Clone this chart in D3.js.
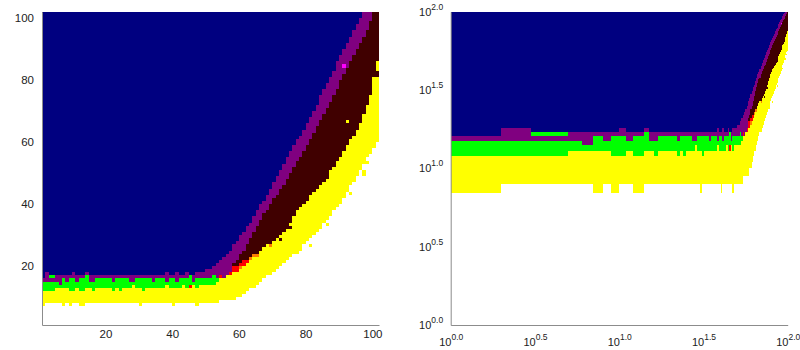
<!DOCTYPE html>
<html>
<head>
<meta charset="utf-8">
<script src="https://cdn.jsdelivr.net/npm/d3@7"></script>
<style>
  body { margin: 0; background: #fff; }
  svg { display: block; }
  .tick text { font-family: "Liberation Sans", Arial, sans-serif; fill: #222; }
</style>
</head>
<body>
<script>
// grid is 101 x 101 cells, column c spans [c, c+1], row r spans [r, r+1]
// per column: first yellow row, first row above yellow, first purple row, first navy row
var yellowStart = [
   7, 8, 8, 8, 8, 8, 7, 8, 7, 8,
   8, 7, 7, 8, 8, 8, 8, 8, 8, 8,
   8, 8, 8, 8, 8, 8, 8, 8, 8, 7,
   8, 8, 8, 8, 8, 8, 8, 8, 8, 7,
   8, 8, 8, 8, 8, 8, 7, 8, 8, 8,
   8, 8, 8, 9, 9, 9, 9, 9,10,10,
  11,12,13,13,14,15,16,17,17,18,
  19,20,21,22,23,24,24,25,27,28,
  29,30,31,32,34,35,36,38,39,40,
  42,44,46,47,49,51,53,55,56,58,60
];
var midStart = [
  12,12,12,12,13,13,13,13,12,12,
  13,12,12,13,13,12,13,13,13,13,
  13,12,13,12,13,13,13,14,13,13,
  12,13,13,13,13,13,13,14,13,13,
  13,13,14,13,13,14,13,14,14,14,
  14,14,15,16,16,17,17,18,18,19,
  20,21,22,23,24,25,26,27,27,28,
  29,30,31,32,34,36,38,39,40,41,
  43,44,45,46,47,49,51,52,54,55,
  57,59,61,62,64,66,69,72,75,81,86
];
var purpleStart = [
  15,15,15,15,15,14,16,15,16,16,
  15,16,16,16,15,15,16,16,16,16,
  16,15,16,16,16,16,15,15,16,16,
  16,16,16,15,16,16,16,15,16,16,
  15,16,16,16,16,15,16,16,16,16,
  16,17,16,17,16,17,18,21,22,24,
  25,27,29,31,33,35,37,38,40,42,
  43,45,46,48,50,52,54,55,57,59,
  61,63,65,67,69,71,73,75,77,80,
  82,84,86,88,90,92,94,96,99,102,102
];
var navyStart = [
  16,18,17,17,17,17,17,17,17,18,
  17,17,17,18,17,17,17,17,17,17,
  17,17,17,17,17,17,17,17,17,17,
  17,17,17,17,17,17,17,18,17,17,
  18,17,17,18,17,17,18,18,18,19,
  19,20,21,22,23,24,25,27,28,30,
  31,33,34,36,38,40,41,43,45,47,
  49,51,53,55,57,59,61,62,64,66,
  68,70,72,75,77,79,81,83,86,88,
  90,92,94,96,98,100,102,102,102,102,102
];
var greenUntilCol = 53;

// single cells that break the bands: [column, row, class]
var oddCells = [
  [3,16,"g"],[4,16,"g"],[14,16,"g"],[45,16,"g"],
  [45,13,"r"],[54,16,"r"],[57,17,"r"],[58,18,"r"],[58,19,"r"],[59,18,"r"],
  [59,19,"r"],[60,19,"o"],[60,20,"r"],[61,20,"r"],[61,21,"r"],[62,21,"r"],
  [63,22,"o"],[64,23,"o"],[65,23,"o"],[69,26,"o"],
  [91,84,"m"],
  [72,28,"b"],[75,32,"b"],[86,48,"b"],[101,81,"b"],[101,82,"b"],
  [92,66,"y"],[81,26,"y"],[86,33,"y"],[93,43,"y"],[97,49,"y"],[97,50,"y"],[98,53,"y"]
];

var colors = {
  n: "#000080", p: "#800080", b: "#400000", g: "#00ff00",
  y: "#ffff00", r: "#ff0000", o: "#ff8000", m: "#ff00ff"
};

var linTicks = [20, 40, 60, 80, 100];
var logExponents = ["0.0", "0.5", "1.0", "1.5", "2.0"];

var width = 800, height = 350;

var svg = d3.select("body").append("svg")
    .attr("width", width)
    .attr("height", height);

//category of one cell
function cellClass(c, r){
    var i = c - 1;
    if (r < yellowStart[i]) return null;
    if (r < midStart[i]) return "y";
    if (r < purpleStart[i]) return c <= greenUntilCol ? "g" : "b";
    if (r < navyStart[i]) return "p";
    return "n";
}

//merge each column into vertical runs of one colour
function buildRuns(){
    var lookup = {};
    oddCells.forEach(function(d){ lookup[d[0] + "_" + d[1]] = d[2]; });
    var runs = [];
    for (var c = 1; c <= navyStart.length; c++){
        var cur = null, start = 1;
        for (var r = 1; r <= 102; r++){
            var k = r <= 101 ? (lookup[c + "_" + r] || cellClass(c, r)) : "end";
            if (k !== cur){
                if (cur && cur !== "end") runs.push({c: c, r0: start, r1: r, k: cur});
                cur = k; start = r;
            }
        }
    }
    return runs;
}

var runs = buildRuns();

function drawPanel(x, y, lo, hi){
    var g = svg.append("g");
    g.selectAll("rect")
        .data(runs.filter(function(d){ return d.c < hi && d.r0 < hi; }))
        .enter()
        .append("rect")
        .attr("x", function(d){ return x(Math.max(d.c, lo)); })
        .attr("width", function(d){ return x(Math.min(d.c + 1, hi)) - x(Math.max(d.c, lo)); })
        .attr("y", function(d){ return y(Math.min(d.r1, hi)); })
        .attr("height", function(d){ return y(Math.max(d.r0, lo)) - y(Math.min(d.r1, hi)); })
        .attr("fill", function(d){ return colors[d.k]; })
        .attr("shape-rendering", "crispEdges");
}

function styleAxis(g){
    g.select(".domain").attr("stroke", "#8c8c8c").attr("stroke-width", 1);
    g.selectAll(".tick line").remove();
}

//left panel, linear
var xLin = d3.scaleLinear().domain([1, 102]).range([42, 379]);
var yLin = d3.scaleLinear().domain([1, 102]).range([325, 11.7]);
drawPanel(xLin, yLin, 1, 102);

svg.append("g")
    .attr("transform", "translate(0,325)")
    .call(d3.axisBottom(xLin).tickValues(linTicks).tickSize(0).tickSizeOuter(0).tickPadding(5))
    .call(styleAxis)
    .selectAll("text").attr("font-size", 11.5);

svg.append("g")
    .attr("transform", "translate(42,0)")
    .call(d3.axisLeft(yLin).tickValues(linTicks).tickSize(0).tickSizeOuter(0).tickPadding(8))
    .call(styleAxis)
    .selectAll("text").attr("font-size", 11.5);

//right panel, log-log
var xLog = d3.scaleLog().domain([1, 100]).range([450.7, 787.7]);
var yLog = d3.scaleLog().domain([1, 100]).range([325, 11.7]);
drawPanel(xLog, yLog, 1, 100);

var logTicks = logExponents.map(function(e){ return Math.pow(10, +e); });

function powerLabel(sel, baseDy, supDy){
    sel.each(function(d, i){
        var t = d3.select(this).text(null).attr("font-size", 11).attr("dy", null);
        t.append("tspan").attr("dy", baseDy).text("10");
        t.append("tspan").attr("font-size", 8.5).attr("dy", supDy).text(logExponents[i]);
    });
}

svg.append("g")
    .attr("transform", "translate(0,325)")
    .call(d3.axisBottom(xLog).tickValues(logTicks).tickSize(0).tickSizeOuter(0))
    .call(styleAxis)
    .selectAll("text")
    .attr("y", 20.5)
    .call(powerLabel, 0, -6);

svg.append("g")
    .attr("transform", "translate(450.7,0)")
    .call(d3.axisLeft(yLog).tickValues(logTicks).tickSize(0).tickSizeOuter(0))
    .call(styleAxis)
    .selectAll("text")
    .attr("x", -7.5)
    .attr("y", 3.5)
    .call(powerLabel, 0, -6);
</script>
</body>
</html>
